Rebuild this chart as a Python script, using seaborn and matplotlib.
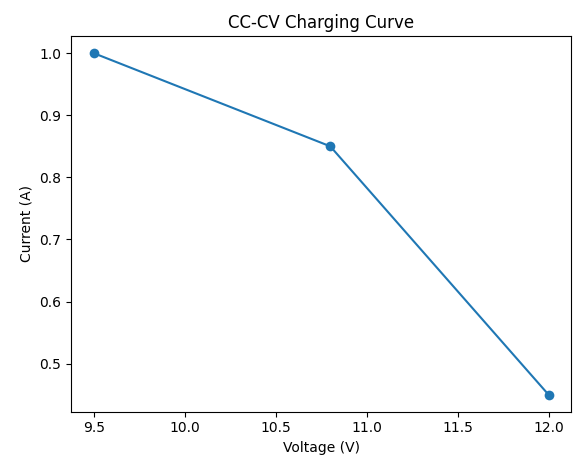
import matplotlib
matplotlib.use("Agg")
import matplotlib.pyplot as plt
import seaborn as sns
import pandas as pd

# CC-CV charging points
voltage = [9.5, 10.8, 12.0]
current = [1.0, 0.85, 0.45]

df = pd.DataFrame({"Voltage": voltage, "Current": current})

fig, ax = plt.subplots(figsize=(5.73, 4.57), dpi=100)
sns.lineplot(data=df, x="Voltage", y="Current", marker="o", markersize=7,
             markeredgewidth=0, color="#1f77b4", ax=ax)

ax.set_title("CC-CV Charging Curve")
ax.set_xlabel("Voltage (V)")
ax.set_ylabel("Current (A)")

plt.subplots_adjust(left=0.124, right=0.997, top=0.921, bottom=0.099)
fig.savefig("out.png", dpi=100)
